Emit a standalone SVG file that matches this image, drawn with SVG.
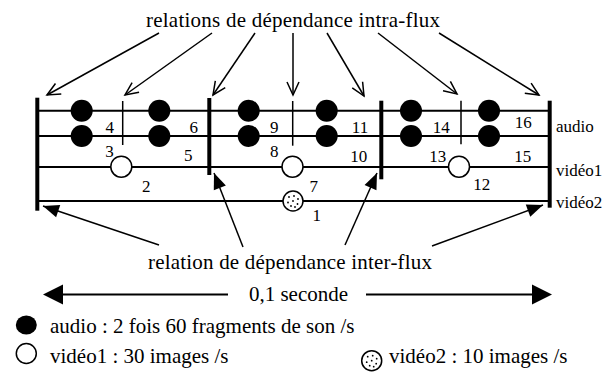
<svg xmlns="http://www.w3.org/2000/svg" width="604" height="374" viewBox="0 0 604 374">
  <defs>
    <style>
      text{font-family:'Liberation Serif','Times New Roman',serif;fill:#000}
      .big{font-size:21px}
      .num{font-size:17px;text-anchor:middle}
      .lbl{font-size:17px}
      .track{stroke:#000;stroke-width:2}
      .bar{stroke:#000;stroke-width:4}
      .tick{stroke:#000;stroke-width:1.5}
      .intra{stroke:#000;stroke-width:1.5;fill:none;marker-end:url(#open)}
      .inter{stroke:#000;stroke-width:1.5;fill:none;marker-end:url(#solid)}
      .audio{fill:#000}
      .v1{fill:#fff;stroke:#000;stroke-width:1.5}
      .dot{fill:#000}
    </style>
    <marker id="open" markerUnits="userSpaceOnUse" markerWidth="20" markerHeight="20" viewBox="-16 -10 20 20" refX="0" refY="0" orient="auto">
      <path d="M-13,-6 L0,0 L-13,6" fill="none" stroke="#000" stroke-width="1.5"/>
    </marker>
    <marker id="solid" markerUnits="userSpaceOnUse" markerWidth="20" markerHeight="20" viewBox="-18 -10 20 20" refX="0" refY="0" orient="auto">
      <path d="M-16,-6.5 L0,0 L-16,6.5 Z" fill="#000"/>
    </marker>
    <!-- speckled disc used for the vidéo2 frame -->
    <g id="speckled">
      <circle r="10" fill="#fff" stroke="#000" stroke-width="1.5"/>
      <circle class="dot" cx="-4" cy="-4" r="0.9"/>
      <circle class="dot" cx="1" cy="-5" r="0.9"/>
      <circle class="dot" cx="5" cy="-2" r="0.9"/>
      <circle class="dot" cx="-5" cy="1.5" r="0.9"/>
      <circle class="dot" cx="0" cy="0" r="0.9"/>
      <circle class="dot" cx="4.5" cy="3" r="0.9"/>
      <circle class="dot" cx="-2" cy="5" r="0.9"/>
      <circle class="dot" cx="2" cy="6" r="0.9"/>
    </g>
  </defs>

  <rect width="604" height="374" fill="#fff"/>

  <!-- stream tracks -->
  <g id="tracks">
    <line class="track" x1="37" y1="110.7" x2="549.7" y2="110.7"/>
    <line class="track" x1="37" y1="136" x2="549.7" y2="136"/>
    <line class="track" x1="37" y1="167" x2="549.7" y2="167"/>
    <line class="track" x1="37" y1="201" x2="549.7" y2="201"/>
    <text class="lbl" x="556" y="132">audio</text>
    <text class="lbl" x="556" y="175.5">vidéo1</text>
    <text class="lbl" x="556" y="208">vidéo2</text>
  </g>

  <!-- synchronisation bars -->
  <g id="bars">
    <line class="bar" x1="37.3" y1="97.7" x2="37.3" y2="210.7"/>
    <line class="bar" x1="209.3" y1="98" x2="209.3" y2="175"/>
    <line class="bar" x1="381.3" y1="100.7" x2="381.3" y2="179.3"/>
    <line class="bar" x1="549.7" y1="100.7" x2="549.7" y2="207.7"/>
  </g>

  <!-- first 1/30 s slot -->
  <g id="slot1">
    <line class="tick" x1="122.7" y1="101" x2="122.7" y2="145"/>
    <circle class="audio" cx="81.7" cy="110.7" r="11"/>
    <circle class="audio" cx="81.7" cy="136" r="11"/>
    <circle class="audio" cx="159.3" cy="110.7" r="11"/>
    <circle class="audio" cx="159.3" cy="136" r="11"/>
    <circle class="v1" cx="121.3" cy="166.7" r="10.5"/>
    <text class="num" x="109.7" y="133.3">4</text>
    <text class="num" x="109.5" y="156.7">3</text>
    <text class="num" x="193.7" y="133.3">6</text>
    <text class="num" x="188.3" y="161">5</text>
    <text class="num" x="146.2" y="191.7">2</text>
  </g>

  <!-- second 1/30 s slot -->
  <g id="slot2">
    <line class="tick" x1="292.7" y1="101" x2="292.7" y2="145.7"/>
    <circle class="audio" cx="248.7" cy="110.7" r="11"/>
    <circle class="audio" cx="248.7" cy="136" r="11"/>
    <circle class="audio" cx="326.7" cy="110.7" r="11"/>
    <circle class="audio" cx="326.7" cy="136" r="11"/>
    <circle class="v1" cx="292.5" cy="166.7" r="10.5"/>
    <use href="#speckled" x="293" y="201"/>
    <text class="num" x="274.2" y="133.3">9</text>
    <text class="num" x="274.2" y="156.7">8</text>
    <text class="num" x="360" y="133.3">11</text>
    <text class="num" x="358.8" y="162.3">10</text>
    <text class="num" x="313.8" y="191.7">7</text>
    <text class="num" x="316.7" y="221">1</text>
  </g>

  <!-- third 1/30 s slot -->
  <g id="slot3">
    <line class="tick" x1="461" y1="100.7" x2="461" y2="144.3"/>
    <circle class="audio" cx="411" cy="110.7" r="11"/>
    <circle class="audio" cx="411" cy="136" r="11"/>
    <circle class="audio" cx="489" cy="110.7" r="11"/>
    <circle class="audio" cx="489" cy="136" r="11"/>
    <circle class="v1" cx="459" cy="166.7" r="10.5"/>
    <text class="num" x="441.3" y="133.3">14</text>
    <text class="num" x="437.7" y="161.7">13</text>
    <text class="num" x="523.3" y="127.7">16</text>
    <text class="num" x="522.8" y="161.7">15</text>
    <text class="num" x="481.7" y="190">12</text>
  </g>

  <!-- captions -->
  <g id="intra-label">
    <text class="big" x="293" y="27" text-anchor="middle" textLength="294" lengthAdjust="spacing">relations de dépendance intra-flux</text>
  </g>
  <g id="inter-label">
    <text class="big" x="290" y="268.5" text-anchor="middle" textLength="284" lengthAdjust="spacing">relation de dépendance inter-flux</text>
  </g>

  <!-- connectors -->
  <g id="connectors">
    <line class="intra" x1="159" y1="33" x2="47" y2="95"/>
    <line class="intra" x1="212" y1="33" x2="125" y2="95"/>
    <line class="intra" x1="255" y1="33" x2="213" y2="95"/>
    <line class="intra" x1="293" y1="33" x2="293" y2="95"/>
    <line class="intra" x1="327" y1="33" x2="364" y2="96"/>
    <line class="intra" x1="378" y1="33" x2="457" y2="94"/>
    <line class="intra" x1="439" y1="33" x2="539" y2="95"/>

    <line class="inter" x1="159" y1="245" x2="43" y2="206"/>
    <line class="inter" x1="243" y1="247" x2="214" y2="173"/>
    <line class="inter" x1="345" y1="245" x2="377" y2="173"/>
    <line class="inter" x1="432" y1="246" x2="543" y2="205"/>
  </g>

  <!-- time span -->
  <g id="duration">
    <line x1="60" y1="294.5" x2="228" y2="294.5" stroke="#000" stroke-width="2"/>
    <line x1="366" y1="294.5" x2="535" y2="294.5" stroke="#000" stroke-width="2"/>
    <path d="M43,294.5 L63,284.5 L63,304.5 Z" fill="#000"/>
    <path d="M552,294.5 L532,284.5 L532,304.5 Z" fill="#000"/>
    <text class="big" x="298.5" y="301" text-anchor="middle">0,1 seconde</text>
  </g>

  <!-- legend -->
  <g id="legend">
    <ellipse cx="26.3" cy="325" rx="10.5" ry="9.5" fill="#000"/>
    <text class="big" x="50" y="332.7">audio : 2 fois 60 fragments de son /s</text>
    <circle cx="26.3" cy="353.5" r="10" fill="#fff" stroke="#000" stroke-width="1.5"/>
    <text class="big" x="50" y="363.3">vidéo1 : 30 images /s</text>
    <use href="#speckled" x="371.7" y="360.7"/>
    <text class="big" x="389" y="363.3">vidéo2 : 10 images /s</text>
  </g>
</svg>
